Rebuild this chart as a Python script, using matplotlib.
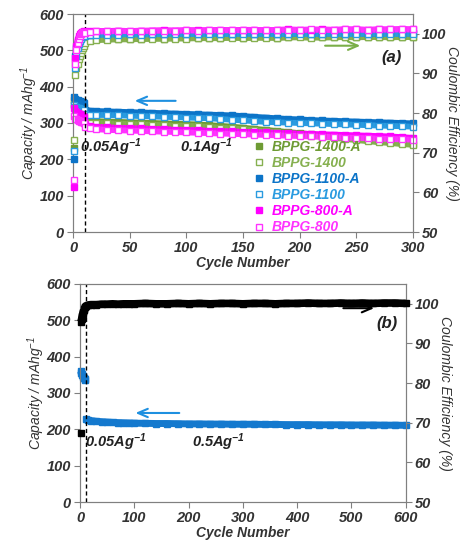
import matplotlib
matplotlib.use("Agg")
import matplotlib.pyplot as plt
from matplotlib.lines import Line2D

plt.rcParams["font.family"] = ["Liberation Sans", "DejaVu Sans"]
plt.rcParams["mathtext.default"] = "regular"

# ---- panel (a): cycles 1-10 at 0.05 A/g, then 0.1 A/g ----
cyc_a = list(range(1, 11)) + [11, 15] + list(range(20, 301, 10))

cap_1400A = [362, 355, 352, 350, 349, 348, 346, 345, 344, 343,
             308, 306, 305, 304, 303, 302, 301, 300, 299, 298, 297, 296, 294, 292, 290,
             287, 284, 281, 278, 275, 272, 269, 266, 263, 260, 257, 254, 251, 248, 245, 242]
cap_1400 = [352, 345, 342, 340, 339, 338, 337, 336, 335, 334,
            303, 301, 300, 299, 298, 297, 296, 295, 294, 293, 292, 291, 289, 287, 285,
            283, 280, 277, 274, 271, 268, 265, 262, 259, 256, 253, 250, 247, 245, 242, 240]
cap_1100A = [372, 366, 364, 362, 361, 360, 359, 358, 357, 356,
             336, 334, 333, 332, 331, 330, 329, 328, 327, 326, 325, 324, 323, 322, 321,
             319, 317, 315, 313, 311, 310, 308, 307, 306, 305, 304, 303, 302, 301, 300, 299]
cap_1100 = [350, 345, 343, 341, 340, 339, 338, 337, 336, 335,
            324, 323, 322, 322, 321, 320, 319, 318, 317, 316, 315, 314, 313, 311, 309,
            307, 305, 303, 302, 301, 300, 299, 298, 297, 296, 295, 294, 293, 292, 291, 290]
cap_800A = [340, 333, 330, 328, 326, 324, 322, 320, 318, 316,
            296, 292, 290, 288, 287, 286, 285, 284, 283, 282, 281, 280, 279, 278, 277,
            276, 275, 274, 273, 272, 271, 270, 269, 268, 267, 266, 265, 264, 263, 261, 259]
cap_800 = [318, 312, 310, 308, 306, 305, 304, 303, 302, 300,
           288, 285, 283, 281, 280, 279, 278, 277, 276, 275, 274, 273, 272, 271, 270,
           269, 268, 267, 266, 265, 264, 263, 262, 261, 260, 259, 258, 257, 256, 255, 254]

ce_1400A = [71.3, 93.0, 95.5, 96.8, 97.6, 98.1, 98.4, 98.6, 98.7, 98.8,
            98.2, 98.5, 98.6, 98.7, 98.7, 98.8, 98.8, 98.9, 98.8, 98.9, 99.0, 98.9, 99.0, 99.0, 99.1,
            99.0, 99.1, 99.1, 99.0, 99.2, 99.6, 99.2, 99.1, 99.2, 99.3, 99.2, 99.3, 99.2, 99.3, 99.3, 99.2]
ce_1400 = [73.3, 89.5, 91.5, 92.5, 93.7, 94.5, 95.2, 95.8, 96.3, 97.0,
           97.8, 98.2, 98.4, 98.5, 98.6, 98.6, 98.7, 98.7, 98.8, 98.8, 98.8, 98.9, 98.9, 98.9, 99.0,
           98.9, 99.0, 99.0, 99.0, 99.1, 99.1, 99.0, 99.1, 99.1, 99.2, 99.1, 99.2, 99.2, 99.1, 99.2, 99.2]
ce_1100A = [68.3, 94.5, 96.5, 97.5, 98.3, 98.8, 99.2, 99.5, 99.7, 99.8,
            99.6, 99.8, 99.9, 99.9, 100.0, 100.0, 99.9, 100.0, 100.0, 100.1, 100.0, 100.0, 100.1, 100.0, 100.0,
            100.1, 100.0, 100.1, 100.0, 100.0, 100.1, 100.0, 100.0, 100.1, 100.0, 100.1, 100.0, 100.0, 100.1, 100.0, 100.1]
ce_1100 = [70.5, 91.5, 94.5, 96.3, 97.4, 98.1, 98.7, 99.1, 99.4, 99.6,
           99.4, 99.6, 99.7, 99.8, 99.8, 99.9, 99.8, 99.9, 99.9, 99.9, 100.0, 99.9, 99.9, 100.0, 99.9,
           100.0, 99.9, 100.0, 99.9, 100.0, 100.0, 99.9, 100.0, 100.0, 99.9, 100.0, 100.0, 100.0, 99.9, 100.0, 100.0]
ce_800A = [61.4, 93.8, 97.0, 98.5, 99.4, 99.9, 100.2, 100.4, 100.5, 100.6,
           100.5, 100.6, 100.7, 100.7, 100.8, 100.7, 100.8, 100.8, 100.9, 100.8, 100.9, 100.9, 100.9, 101.0, 100.9,
           101.0, 101.0, 100.9, 101.0, 101.1, 101.0, 101.0, 101.1, 101.0, 101.1, 101.1, 101.0, 101.1, 101.1, 101.2, 101.1]
ce_800 = [63.2, 92.5, 96.0, 97.8, 98.8, 99.5, 99.9, 100.2, 100.4, 100.5,
          100.3, 100.5, 100.6, 100.6, 100.7, 100.7, 100.7, 100.8, 100.8, 100.8, 100.9, 100.8, 100.9, 100.9, 100.9,
          100.9, 101.0, 100.9, 101.0, 101.0, 101.0, 101.1, 101.0, 101.0, 101.1, 101.1, 101.0, 101.1, 101.1, 101.1, 101.1]

labels_a = ["BPPG-1400-A", "BPPG-1400", "BPPG-1100-A", "BPPG-1100", "BPPG-800-A", "BPPG-800"]
colors_a = ["#6E9B34", "#86B050", "#0C74C8", "#2A9BE0", "#FF00FF", "#FF33FF"]
filled_a = [True, False, True, False, True, False]
caps_a = [cap_1400A, cap_1400, cap_1100A, cap_1100, cap_800A, cap_800]
ces_a = [ce_1400A, ce_1400, ce_1100A, ce_1100, ce_800A, ce_800]

# ---- panel (b): cycles 1-10 at 0.05 A/g, then 0.5 A/g ----
cyc_b = list(range(1, 11)) + [11, 15, 20, 30, 40, 50, 60, 70, 80, 90] + list(range(100, 601, 20))
cap_b = [360, 356, 353, 350, 347, 345, 342, 340, 338, 335,
         228, 226, 224, 222, 221, 220, 219, 218.5, 218, 217.5,
         217, 216.5, 216, 216, 215.5, 215, 215, 214.5, 214.5, 214, 214, 214, 213.5,
         213.5, 213, 213, 213, 212.5, 212.5, 212.5, 212, 212, 212, 211.5, 211.5, 211]
ce_b = [67.4, 95.5, 96.2, 96.9, 97.5, 98.0, 98.4, 98.8, 99.1, 99.3,
        99.5, 99.7, 99.8, 99.8, 99.9, 99.9, 100.0, 99.9, 100.0, 100.0,
        100.0, 100.1, 100.0, 100.0, 100.1, 100.0, 100.1, 100.0, 100.1, 100.1, 100.0, 100.1, 100.1,
        100.0, 100.1, 100.1, 100.2, 100.1, 100.1, 100.2, 100.1, 100.2, 100.1, 100.2, 100.2, 100.1]

fs = 10.5
tick_col = "#333333"
spine_col = "#808080"
bi = dict(fontweight="bold", fontstyle="italic")
head = "->,head_length=0.7,head_width=0.3"


def band(a, x, y, col, face, lw, ms):
    # capacity: break the band where the current changes (after cycle 10)
    a.plot(x[:10], y[:10], color=col, lw=lw, solid_capstyle="butt", zorder=2, clip_on=False)
    a.plot(x[10:], y[10:], color=col, lw=lw, solid_capstyle="butt", zorder=2, clip_on=False)
    a.plot(x, y, ls="none", marker="s", ms=ms, mfc=face, mec=col, mew=1, zorder=3, clip_on=False)


def ce_band(a, x, y, col, face, lw, ms):
    # first-cycle efficiency stands alone
    a.plot(x[1:], y[1:], color=col, lw=lw, solid_capstyle="butt", zorder=2, clip_on=False)
    a.plot(x, y, ls="none", marker="s", ms=ms, mfc=face, mec=col, mew=1, zorder=3, clip_on=False)


def style_axes(ax, ax2, xticks):
    for a in (ax, ax2):
        for s in a.spines.values():
            s.set_color(spine_col)
        a.tick_params(direction="out", length=4, color=spine_col, labelcolor=tick_col,
                      labelsize=fs, pad=2.5)
    ax.set_ylim(0, 600)
    ax.set_yticks(range(0, 601, 100))
    ax2.set_ylim(50, 105)
    ax2.set_yticks(range(50, 101, 10))
    ax.set_xticks(xticks)
    for lab in ax.get_xticklabels() + ax.get_yticklabels() + ax2.get_yticklabels():
        lab.set_fontweight("bold")
        lab.set_fontstyle("italic")
    ax.set_xlabel("Cycle Number", fontsize=10, color=tick_col, labelpad=1, **bi)
    ax.set_ylabel("Capacity / mAhg$^{-1}$", fontsize=10, color=tick_col,
                  fontstyle="italic", labelpad=0)
    ax2.set_ylabel("Coulombic Efficiency (%)", fontsize=10, color=tick_col,
                   fontstyle="italic", rotation=270, labelpad=9)


fig = plt.figure(figsize=(4.61, 5.46), dpi=100)

# ---------------- panel (a) ----------------
ax = fig.add_axes([73 / 461, 1 - 232 / 546, 340 / 461, 218 / 546])
ax2 = ax.twinx()
ax.set_xlim(0, 300)

handles = []
for lab, col, fl, cap, ce in zip(labels_a, colors_a, filled_a, caps_a, ces_a):
    face = col if fl else "white"
    band(ax, cyc_a, cap, col, face, 4.2, 4.5)
    ce_band(ax2, cyc_a, ce, col, face, 4.2, 4.5)
    handles.append(Line2D([], [], ls="none", marker="s", ms=5, mfc=face, mec=col, mew=1))

ax.axvline(10.5, color="black", ls=(0, (3, 2)), lw=1, zorder=4)
ax.annotate("", xy=(52, 361), xytext=(93, 361),
            arrowprops=dict(arrowstyle=head, color="#1E90E0", lw=1.5))
ax2.annotate("", xy=(256, 97), xytext=(220, 97),
             arrowprops=dict(arrowstyle=head, color="#7AAE48", lw=1.5))
ax.text(6, 234, "0.05Ag$^{-1}$", fontsize=fs, color="#222222", va="center", ha="left", **bi)
ax.text(94, 234, "0.1Ag$^{-1}$", fontsize=fs, color="#222222", va="center", ha="left", **bi)
ax.text(0.938, 0.80, "(a)", transform=ax.transAxes, fontsize=12, color="#222222",
        ha="center", va="center", **bi)

leg = ax2.legend(handles, labels_a, loc="upper left", bbox_to_anchor=(252 / 461, 1 - 140 / 546),
                 bbox_transform=fig.transFigure, frameon=False, borderpad=0, borderaxespad=0,
                 handlelength=1.0, handletextpad=0.4, labelspacing=0.15,
                 prop=dict(family=["Liberation Sans", "DejaVu Sans"], weight="bold",
                           style="italic", size=10), labelcolor=colors_a)
style_axes(ax, ax2, range(0, 301, 50))

# ---------------- panel (b) ----------------
bx = fig.add_axes([80 / 461, 1 - 502 / 546, 325.7 / 461, 218 / 546])
bx2 = bx.twinx()
bx.set_xlim(0, 600)

bx2.annotate("", xy=(547, 98.9), xytext=(480, 98.9),
             arrowprops=dict(arrowstyle=head, color="black", lw=1.5), zorder=1)
band(bx, cyc_b, cap_b, "#1479CE", "#1479CE", 5, 4.5)
ce_band(bx2, cyc_b, ce_b, "black", "black", 5.5, 4.5)

bx.axvline(10.5, color="black", ls=(0, (3, 2)), lw=1, zorder=4)
bx.annotate("", xy=(97, 245), xytext=(188, 245),
            arrowprops=dict(arrowstyle=head, color="#1E90E0", lw=1.5))
bx.text(9, 165, "0.05Ag$^{-1}$", fontsize=fs, color="#222222", va="center", ha="left", **bi)
bx.text(206, 165, "0.5Ag$^{-1}$", fontsize=fs, color="#222222", va="center", ha="left", **bi)
bx.text(0.943, 0.82, "(b)", transform=bx.transAxes, fontsize=12, color="#222222",
        ha="center", va="center", **bi)
style_axes(bx, bx2, range(0, 601, 100))

fig.savefig("out.png", dpi=100)
